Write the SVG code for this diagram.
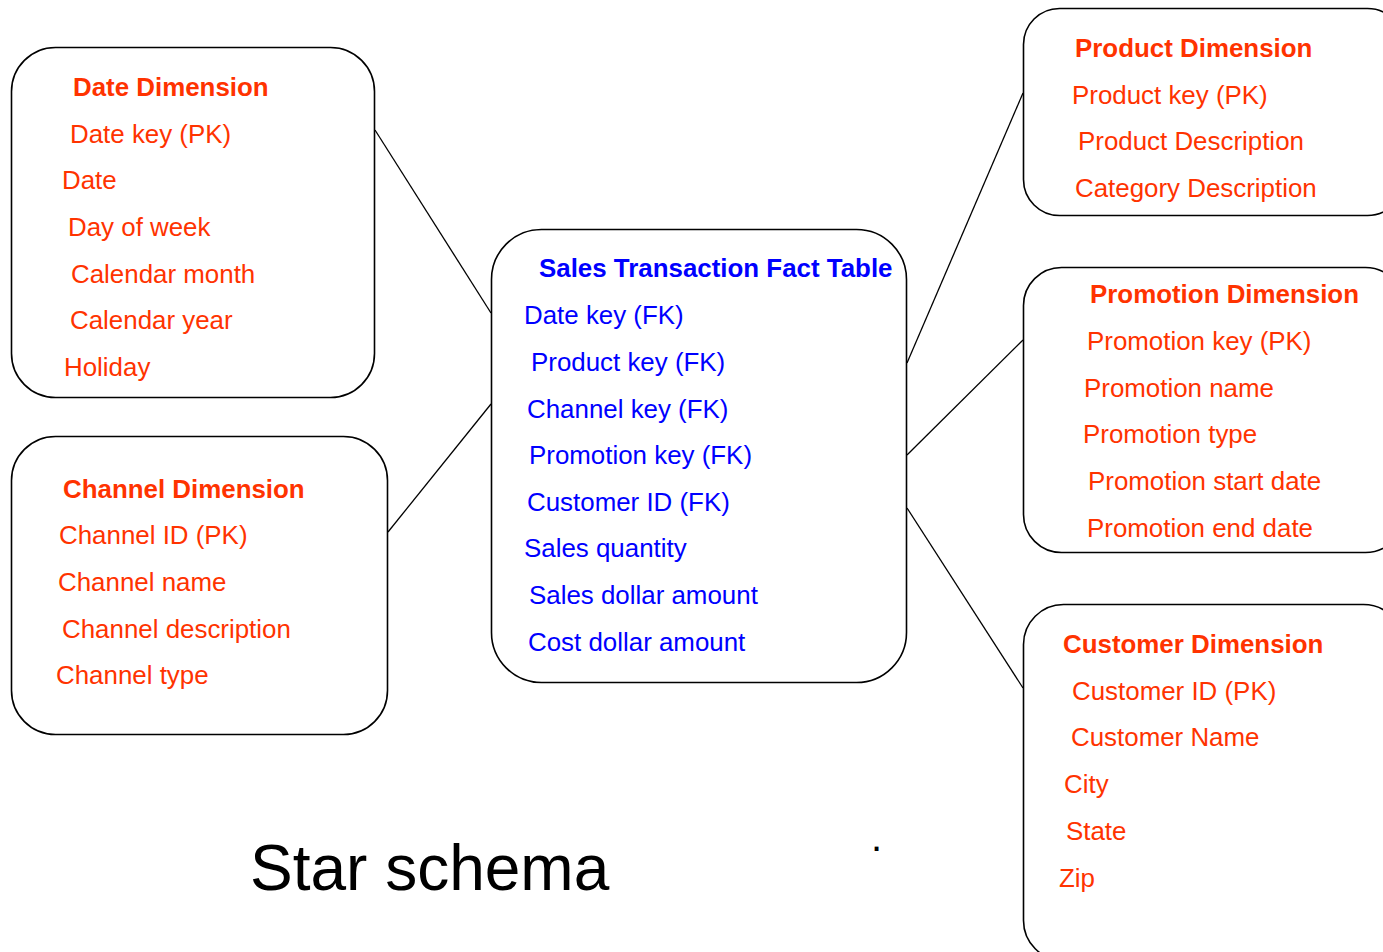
<svg xmlns="http://www.w3.org/2000/svg" width="1383" height="952" viewBox="0 0 1383 952">
  <style>
    .box { fill: #ffffff; stroke: #000000; stroke-width: 1.6; }
    .link { stroke: #000000; stroke-width: 1.3; fill: none; }
    text { font-family: "Liberation Sans", Arial, sans-serif; font-size: 25.9px; }
    .dim { fill: #ff3300; }
    .fact { fill: #0000ff; }
    .hd { font-weight: bold; font-size: 25.9px; }
    .title { font-size: 64px; fill: #000000; }
  </style>
  <rect width="1383" height="952" fill="#ffffff"/>

  <!-- connectors between the fact table and each dimension -->
  <g id="connectors">
    <line class="link" x1="375" y1="130" x2="491" y2="313"/>
    <line class="link" x1="388" y1="532" x2="491" y2="404"/>
    <line class="link" x1="907" y1="363" x2="1023" y2="93"/>
    <line class="link" x1="907" y1="455" x2="1023" y2="340"/>
    <line class="link" x1="907" y1="508" x2="1023" y2="688"/>
  </g>

  <g id="date-dimension">
    <rect class="box" x="11.5" y="47.5" width="363" height="350" rx="44" ry="44"/>
    <text class="dim hd" x="73" y="96">Date Dimension</text>
    <text class="dim" x="70" y="143">Date key (PK)</text>
    <text class="dim" x="62" y="189">Date</text>
    <text class="dim" x="68" y="236">Day of week</text>
    <text class="dim" x="71" y="283">Calendar month</text>
    <text class="dim" x="70" y="329">Calendar year</text>
    <text class="dim" x="64" y="376">Holiday</text>
  </g>

  <g id="channel-dimension">
    <rect class="box" x="11.5" y="436.5" width="376" height="298" rx="44" ry="44"/>
    <text class="dim hd" x="63" y="498">Channel Dimension</text>
    <text class="dim" x="59" y="544">Channel ID (PK)</text>
    <text class="dim" x="58" y="591">Channel name</text>
    <text class="dim" x="62" y="638">Channel description</text>
    <text class="dim" x="56" y="684">Channel type</text>
  </g>

  <g id="sales-fact">
    <rect class="box" x="491.5" y="229.5" width="415" height="453" rx="50" ry="50"/>
    <text class="fact hd" x="539" y="277">Sales Transaction Fact Table</text>
    <text class="fact" x="524" y="324">Date key (FK)</text>
    <text class="fact" x="531" y="371">Product key (FK)</text>
    <text class="fact" x="527" y="418">Channel key (FK)</text>
    <text class="fact" x="529" y="464">Promotion key (FK)</text>
    <text class="fact" x="527" y="511">Customer ID (FK)</text>
    <text class="fact" x="524" y="557">Sales quantity</text>
    <text class="fact" x="529" y="604">Sales dollar amount</text>
    <text class="fact" x="528" y="651">Cost dollar amount</text>
  </g>

  <g id="product-dimension">
    <rect class="box" x="1023.5" y="8.5" width="380" height="207" rx="36" ry="36"/>
    <text class="dim hd" x="1075" y="57">Product Dimension</text>
    <text class="dim" x="1072" y="104">Product key (PK)</text>
    <text class="dim" x="1078" y="150">Product Description</text>
    <text class="dim" x="1075" y="197">Category Description</text>
  </g>

  <g id="promotion-dimension">
    <rect class="box" x="1023.5" y="267.5" width="380" height="285" rx="38" ry="38"/>
    <text class="dim hd" x="1090" y="303">Promotion Dimension</text>
    <text class="dim" x="1087" y="350">Promotion key (PK)</text>
    <text class="dim" x="1084" y="397">Promotion name</text>
    <text class="dim" x="1083" y="443">Promotion type</text>
    <text class="dim" x="1088" y="490">Promotion start date</text>
    <text class="dim" x="1087" y="537">Promotion end date</text>
  </g>

  <g id="customer-dimension">
    <rect class="box" x="1023.5" y="604.5" width="380" height="356" rx="40" ry="40"/>
    <text class="dim hd" x="1063" y="653">Customer Dimension</text>
    <text class="dim" x="1072" y="700">Customer ID (PK)</text>
    <text class="dim" x="1071" y="746">Customer Name</text>
    <text class="dim" x="1064" y="793">City</text>
    <text class="dim" x="1066" y="840">State</text>
    <text class="dim" x="1059" y="887">Zip</text>
  </g>

  <text class="title" x="250" y="890">Star schema</text>
  <text x="871" y="851" style="font-size:40px;fill:#000000">.</text>
</svg>
